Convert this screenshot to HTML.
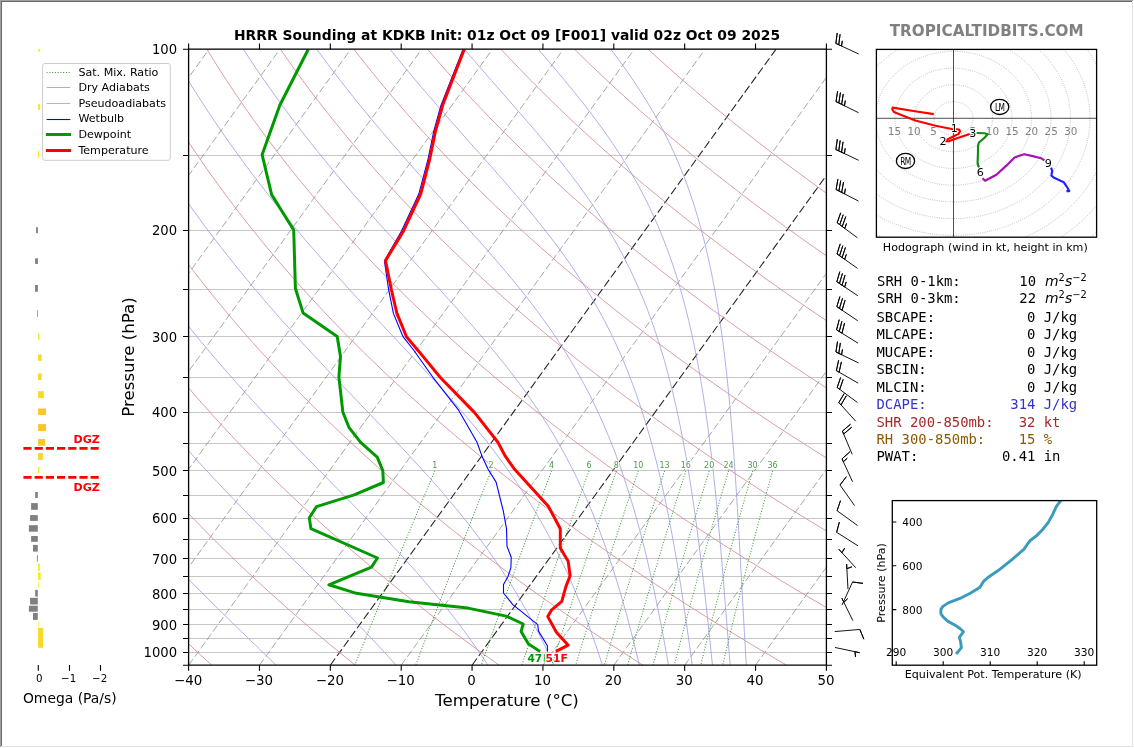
<!DOCTYPE html><html><head><meta charset="utf-8"><title>HRRR Sounding KDKB</title><style>html,body{margin:0;padding:0;background:#fff;overflow:hidden}svg{display:block}text{white-space:pre}</style></head><body>
<svg width="1134" height="748" viewBox="0 0 1134 748" font-family='"DejaVu Sans","Liberation Sans",sans-serif'>
<defs><clipPath id="cp"><rect x="188.6" y="49.2" width="637.8" height="616"/></clipPath>
<clipPath id="ch"><rect x="876.4" y="49.4" width="220.2" height="187.8"/></clipPath>
<clipPath id="ce"><rect x="892.3" y="500.6" width="204.4" height="164.6"/></clipPath></defs>
<rect width="1134" height="748" fill="#fff"/>
<g clip-path="url(#cp)" fill="none">
<path d="M188.6 49.5H826.4M188.6 155.5H826.4M188.6 230.5H826.4M188.6 289.5H826.4M188.6 336.5H826.4M188.6 377.5H826.4M188.6 412.5H826.4M188.6 443.5H826.4M188.6 470.5H826.4M188.6 495.5H826.4M188.6 518.5H826.4M188.6 539.5H826.4M188.6 558.5H826.4M188.6 576.5H826.4M188.6 593.5H826.4M188.6 609.5H826.4M188.6 624.5H826.4M188.6 638.5H826.4M188.6 652.5H826.4" stroke="#c6c6c6" stroke-width="1"/>
<path d="M-661.8 665.2L-216.12 49.2M-590.93 665.2L-145.26 49.2M-520.07 665.2L-74.39 49.2M-449.2 665.2L-3.52 49.2M-378.33 665.2L67.34 49.2M-307.47 665.2L138.21 49.2M-236.6 665.2L209.08 49.2M-165.73 665.2L279.94 49.2M-94.87 665.2L350.81 49.2M-24 665.2L421.68 49.2M46.87 665.2L492.54 49.2M117.73 665.2L563.41 49.2M188.6 665.2L634.28 49.2M259.47 665.2L705.14 49.2M401.2 665.2L846.88 49.2M542.93 665.2L988.61 49.2M613.8 665.2L1059.48 49.2M684.67 665.2L1130.34 49.2M755.53 665.2L1201.21 49.2M826.4 665.2L1272.08 49.2" stroke="#888" stroke-width="0.75" stroke-dasharray="7.4 3.0"/>
<path d="M330.33 665.2L776.01 49.2M472.07 665.2L917.74 49.2" stroke="#222" stroke-width="1.08" stroke-dasharray="8.2 3.2"/>
<path d="M-160.79 49.2 L-158.55 59.64 L-156.2 70.08 L-153.74 80.52 L-151.16 90.96 L-148.47 101.4 L-145.66 111.84 L-142.73 122.28 L-139.68 132.73 L-136.51 143.17 L-133.22 153.61 L-129.8 164.05 L-126.26 174.49 L-122.6 184.93 L-118.8 195.37 L-114.87 205.81 L-110.82 216.25 L-106.63 226.69 L-102.3 237.13 L-97.85 247.57 L-93.25 258.01 L-88.51 268.45 L-83.64 278.89 L-78.62 289.34 L-73.46 299.78 L-68.15 310.22 L-62.7 320.66 L-57.1 331.1 L-51.35 341.54 L-45.44 351.98 L-39.38 362.42 L-33.17 372.86 L-26.8 383.3 L-20.27 393.74 L-13.58 404.18 L-6.73 414.62 L0.29 425.06 L7.48 435.51 L14.83 445.95 L22.35 456.39 L30.05 466.83 L37.92 477.27 L45.96 487.71 L54.19 498.15 L62.59 508.59 L71.18 519.03 L79.95 529.47 L88.9 539.91 L98.05 550.35 L107.39 560.79 L116.92 571.23 L126.64 581.67 L136.56 592.12 L146.68 602.56 L157.01 613 L167.54 623.44 L178.27 633.88 L189.21 644.32 L200.37 654.76 L211.74 665.2M-87.26 49.2 L-84.18 59.64 L-80.98 70.08 L-77.66 80.52 L-74.21 90.96 L-70.64 101.4 L-66.94 111.84 L-63.11 122.28 L-59.16 132.73 L-55.07 143.17 L-50.84 153.61 L-46.49 164.05 L-42 174.49 L-37.36 184.93 L-32.6 195.37 L-27.68 205.81 L-22.63 216.25 L-17.44 226.69 L-12.09 237.13 L-6.6 247.57 L-0.96 258.01 L4.82 268.45 L10.77 278.89 L16.86 289.34 L23.11 299.78 L29.52 310.22 L36.09 320.66 L42.82 331.1 L49.72 341.54 L56.78 351.98 L64 362.42 L71.4 372.86 L78.96 383.3 L86.7 393.74 L94.61 404.18 L102.7 414.62 L110.97 425.06 L119.42 435.51 L128.05 445.95 L136.86 456.39 L145.87 466.83 L155.06 477.27 L164.44 487.71 L174.02 498.15 L183.79 508.59 L193.77 519.03 L203.94 529.47 L214.31 539.91 L224.89 550.35 L235.67 560.79 L246.67 571.23 L257.88 581.67 L269.3 592.12 L280.93 602.56 L292.79 613 L304.87 623.44 L317.17 633.88 L329.7 644.32 L342.46 654.76 L355.45 665.2M-13.73 49.2 L-9.81 59.64 L-5.76 70.08 L-1.58 80.52 L2.74 90.96 L7.19 101.4 L11.78 111.84 L16.5 122.28 L21.37 132.73 L26.38 143.17 L31.53 153.61 L36.83 164.05 L42.27 174.49 L47.87 184.93 L53.61 195.37 L59.5 205.81 L65.55 216.25 L71.76 226.69 L78.12 237.13 L84.64 247.57 L91.32 258.01 L98.16 268.45 L105.17 278.89 L112.35 289.34 L119.69 299.78 L127.2 310.22 L134.89 320.66 L142.75 331.1 L150.78 341.54 L158.99 351.98 L167.39 362.42 L175.96 372.86 L184.72 383.3 L193.67 393.74 L202.8 404.18 L212.13 414.62 L221.64 425.06 L231.36 435.51 L241.27 445.95 L251.38 456.39 L261.69 466.83 L272.2 477.27 L282.93 487.71 L293.86 498.15 L305 508.59 L316.35 519.03 L327.93 529.47 L339.72 539.91 L351.73 550.35 L363.96 560.79 L376.42 571.23 L389.11 581.67 L402.03 592.12 L415.18 602.56 L428.57 613 L442.2 623.44 L456.08 633.88 L470.19 644.32 L484.56 654.76 L499.17 665.2M59.8 49.2 L64.56 59.64 L69.46 70.08 L74.5 80.52 L79.69 90.96 L85.02 101.4 L90.49 111.84 L96.12 122.28 L101.9 132.73 L107.82 143.17 L113.91 153.61 L120.15 164.05 L126.54 174.49 L133.1 184.93 L139.81 195.37 L146.69 205.81 L153.74 216.25 L160.95 226.69 L168.33 237.13 L175.88 247.57 L183.6 258.01 L191.5 268.45 L199.58 278.89 L207.83 289.34 L216.26 299.78 L224.88 310.22 L233.68 320.66 L242.67 331.1 L251.84 341.54 L261.21 351.98 L270.77 362.42 L280.53 372.86 L290.48 383.3 L300.64 393.74 L310.99 404.18 L321.55 414.62 L332.32 425.06 L343.3 435.51 L354.49 445.95 L365.89 456.39 L377.51 466.83 L389.35 477.27 L401.41 487.71 L413.69 498.15 L426.2 508.59 L438.94 519.03 L451.91 529.47 L465.12 539.91 L478.56 550.35 L492.25 560.79 L506.17 571.23 L520.34 581.67 L534.76 592.12 L549.43 602.56 L564.36 613 L579.54 623.44 L594.98 633.88 L610.68 644.32 L626.65 654.76 L642.89 665.2M133.34 49.2 L138.93 59.64 L144.68 70.08 L150.58 80.52 L156.63 90.96 L162.84 101.4 L169.21 111.84 L175.74 122.28 L182.42 132.73 L189.27 143.17 L196.28 153.61 L203.46 164.05 L210.81 174.49 L218.33 184.93 L226.02 195.37 L233.88 205.81 L241.92 216.25 L250.14 226.69 L258.54 237.13 L267.12 247.57 L275.89 258.01 L284.84 268.45 L293.98 278.89 L303.31 289.34 L312.84 299.78 L322.56 310.22 L332.47 320.66 L342.59 331.1 L352.91 341.54 L363.43 351.98 L374.16 362.42 L385.09 372.86 L396.24 383.3 L407.6 393.74 L419.18 404.18 L430.98 414.62 L443 425.06 L455.24 435.51 L467.71 445.95 L480.4 456.39 L493.33 466.83 L506.49 477.27 L519.89 487.71 L533.53 498.15 L547.41 508.59 L561.53 519.03 L575.9 529.47 L590.53 539.91 L605.4 550.35 L620.53 560.79 L635.93 571.23 L651.58 581.67 L667.5 592.12 L683.68 602.56 L700.14 613 L716.87 623.44 L733.88 633.88 L751.17 644.32 L768.75 654.76 L786.61 665.2M206.87 49.2 L213.3 59.64 L219.9 70.08 L226.66 80.52 L233.58 90.96 L240.67 101.4 L247.93 111.84 L255.35 122.28 L262.95 132.73 L270.72 143.17 L278.66 153.61 L286.78 164.05 L295.08 174.49 L303.56 184.93 L312.22 195.37 L321.07 205.81 L330.11 216.25 L339.34 226.69 L348.75 237.13 L358.37 247.57 L368.17 258.01 L378.18 268.45 L388.39 278.89 L398.8 289.34 L409.41 299.78 L420.23 310.22 L431.27 320.66 L442.51 331.1 L453.97 341.54 L465.65 351.98 L477.54 362.42 L489.66 372.86 L502 383.3 L514.57 393.74 L527.37 404.18 L540.41 414.62 L553.67 425.06 L567.18 435.51 L580.93 445.95 L594.92 456.39 L609.15 466.83 L623.64 477.27 L638.37 487.71 L653.36 498.15 L668.61 508.59 L684.12 519.03 L699.89 529.47 L715.93 539.91 L732.24 550.35 L748.82 560.79 L765.68 571.23 L782.81 581.67 L800.23 592.12 L817.93 602.56 L835.92 613 L854.21 623.44 L872.79 633.88 L891.66 644.32 L910.84 654.76 L930.33 665.2M280.4 49.2 L287.68 59.64 L295.12 70.08 L302.74 80.52 L310.53 90.96 L318.5 101.4 L326.64 111.84 L334.97 122.28 L343.47 132.73 L352.16 143.17 L361.04 153.61 L370.1 164.05 L379.35 174.49 L388.79 184.93 L398.43 195.37 L408.26 205.81 L418.3 216.25 L428.53 226.69 L438.97 237.13 L449.61 247.57 L460.46 258.01 L471.52 268.45 L482.79 278.89 L494.28 289.34 L505.99 299.78 L517.91 310.22 L530.06 320.66 L542.43 331.1 L555.03 341.54 L567.86 351.98 L580.93 362.42 L594.23 372.86 L607.76 383.3 L621.54 393.74 L635.56 404.18 L649.83 414.62 L664.35 425.06 L679.12 435.51 L694.15 445.95 L709.43 456.39 L724.97 466.83 L740.78 477.27 L756.85 487.71 L773.2 498.15 L789.82 508.59 L806.71 519.03 L823.88 529.47 L841.34 539.91 L859.08 550.35 L877.11 560.79 L895.43 571.23 L914.05 581.67 L932.96 592.12 L952.18 602.56 L971.71 613 L991.54 623.44 L1011.69 633.88 L1032.15 644.32 L1052.94 654.76 L1074.04 665.2M353.93 49.2 L362.05 59.64 L370.34 70.08 L378.82 80.52 L387.48 90.96 L396.33 101.4 L405.36 111.84 L414.58 122.28 L424 132.73 L433.61 143.17 L443.41 153.61 L453.41 164.05 L463.62 174.49 L474.02 184.93 L484.63 195.37 L495.45 205.81 L506.48 216.25 L517.72 226.69 L529.18 237.13 L540.85 247.57 L552.74 258.01 L564.86 268.45 L577.2 278.89 L589.76 289.34 L602.56 299.78 L615.59 310.22 L628.85 320.66 L642.35 331.1 L656.1 341.54 L670.08 351.98 L684.31 362.42 L698.79 372.86 L713.52 383.3 L728.51 393.74 L743.75 404.18 L759.26 414.62 L775.03 425.06 L791.06 435.51 L807.36 445.95 L823.94 456.39 L840.79 466.83 L857.92 477.27 L875.34 487.71 L893.03 498.15 L911.02 508.59 L929.3 519.03 L947.87 529.47 L966.74 539.91 L985.92 550.35 L1005.39 560.79 L1025.18 571.23 L1045.28 581.67 L1065.7 592.12 L1086.43 602.56 L1107.49 613 L1128.88 623.44 L1150.59 633.88 L1172.64 644.32 L1195.03 654.76 L1217.76 665.2M427.46 49.2 L436.42 59.64 L445.56 70.08 L454.9 80.52 L464.43 90.96 L474.16 101.4 L484.08 111.84 L494.2 122.28 L504.52 132.73 L515.05 143.17 L525.79 153.61 L536.73 164.05 L547.89 174.49 L559.25 184.93 L570.84 195.37 L582.64 205.81 L594.67 216.25 L606.92 226.69 L619.39 237.13 L632.09 247.57 L645.03 258.01 L658.2 268.45 L671.6 278.89 L685.25 289.34 L699.13 299.78 L713.27 310.22 L727.64 320.66 L742.27 331.1 L757.16 341.54 L772.3 351.98 L787.7 362.42 L803.36 372.86 L819.28 383.3 L835.48 393.74 L851.95 404.18 L868.69 414.62 L885.7 425.06 L903 435.51 L920.58 445.95 L938.45 456.39 L956.61 466.83 L975.07 477.27 L993.82 487.71 L1012.87 498.15 L1032.22 508.59 L1051.89 519.03 L1071.86 529.47 L1092.15 539.91 L1112.75 550.35 L1133.68 560.79 L1154.93 571.23 L1176.52 581.67 L1198.43 592.12 L1220.68 602.56 L1243.27 613 L1266.21 623.44 L1289.5 633.88 L1313.13 644.32 L1337.13 654.76 L1361.48 665.2M500.99 49.2 L510.79 59.64 L520.78 70.08 L530.98 80.52 L541.38 90.96 L551.98 101.4 L562.8 111.84 L573.82 122.28 L585.05 132.73 L596.5 143.17 L608.16 153.61 L620.05 164.05 L632.15 174.49 L644.49 184.93 L657.04 195.37 L669.83 205.81 L682.85 216.25 L696.11 226.69 L709.6 237.13 L723.34 247.57 L737.31 258.01 L751.54 268.45 L766.01 278.89 L780.73 289.34 L795.71 299.78 L810.94 310.22 L826.44 320.66 L842.2 331.1 L858.22 341.54 L874.52 351.98 L891.08 362.42 L907.92 372.86 L925.05 383.3 L942.45 393.74 L960.14 404.18 L978.11 414.62 L996.38 425.06 L1014.94 435.51 L1033.8 445.95 L1052.97 456.39 L1072.43 466.83 L1092.21 477.27 L1112.3 487.71 L1132.7 498.15 L1153.43 508.59 L1174.48 519.03 L1195.85 529.47 L1217.55 539.91 L1239.59 550.35 L1261.97 560.79 L1284.69 571.23 L1307.75 581.67 L1331.17 592.12 L1354.93 602.56 L1379.06 613 L1403.55 623.44 L1428.4 633.88 L1453.62 644.32 L1479.22 654.76 L1505.2 665.2M574.52 49.2 L585.16 59.64 L596.01 70.08 L607.06 80.52 L618.33 90.96 L629.81 101.4 L641.51 111.84 L653.43 122.28 L665.58 132.73 L677.94 143.17 L690.54 153.61 L703.36 164.05 L716.42 174.49 L729.72 184.93 L743.25 195.37 L757.02 205.81 L771.04 216.25 L785.3 226.69 L799.81 237.13 L814.58 247.57 L829.6 258.01 L844.87 268.45 L860.41 278.89 L876.21 289.34 L892.28 299.78 L908.62 310.22 L925.23 320.66 L942.12 331.1 L959.28 341.54 L976.73 351.98 L994.47 362.42 L1012.49 372.86 L1030.81 383.3 L1049.42 393.74 L1068.33 404.18 L1087.54 414.62 L1107.06 425.06 L1126.88 435.51 L1147.02 445.95 L1167.48 456.39 L1188.26 466.83 L1209.36 477.27 L1230.78 487.71 L1252.54 498.15 L1274.63 508.59 L1297.06 519.03 L1319.84 529.47 L1342.96 539.91 L1366.43 550.35 L1390.26 560.79 L1414.44 571.23 L1438.99 581.67 L1463.9 592.12 L1489.18 602.56 L1514.84 613 L1540.88 623.44 L1567.3 633.88 L1594.11 644.32 L1621.31 654.76 L1648.91 665.2M648.05 49.2 L659.53 59.64 L671.23 70.08 L683.14 80.52 L695.28 90.96 L707.64 101.4 L720.23 111.84 L733.05 122.28 L746.1 132.73 L759.39 143.17 L772.92 153.61 L786.68 164.05 L800.69 174.49 L814.95 184.93 L829.45 195.37 L844.21 205.81 L859.22 216.25 L874.49 226.69 L890.03 237.13 L905.82 247.57 L921.88 258.01 L938.21 268.45 L954.82 278.89 L971.7 289.34 L988.86 299.78 L1006.3 310.22 L1024.02 320.66 L1042.04 331.1 L1060.35 341.54 L1078.95 351.98 L1097.85 362.42 L1117.06 372.86 L1136.57 383.3 L1156.39 393.74 L1176.52 404.18 L1196.96 414.62 L1217.73 425.06 L1238.82 435.51 L1260.24 445.95 L1281.99 456.39 L1304.08 466.83 L1326.5 477.27 L1349.26 487.71 L1372.38 498.15 L1395.84 508.59 L1419.65 519.03 L1443.83 529.47 L1468.36 539.91 L1493.27 550.35 L1518.54 560.79 L1544.19 571.23 L1570.22 581.67 L1596.63 592.12 L1623.43 602.56 L1650.62 613 L1678.21 623.44 L1706.21 633.88 L1734.6 644.32 L1763.41 654.76 L1792.63 665.2" stroke="#d48c92" stroke-width="0.85"/>
<path d="M-124.23 49.2 L-121.57 59.64 L-118.79 70.08 L-115.9 80.52 L-112.89 90.96 L-109.75 101.4 L-106.5 111.84 L-103.12 122.28 L-99.61 132.73 L-95.98 143.17 L-92.22 153.61 L-88.34 164.05 L-84.32 174.49 L-80.17 184.93 L-75.88 195.37 L-71.46 205.81 L-66.9 216.25 L-62.21 226.69 L-57.37 237.13 L-52.4 247.57 L-47.28 258.01 L-42.01 268.45 L-36.6 278.89 L-31.04 289.34 L-25.33 299.78 L-19.47 310.22 L-13.46 320.66 L-7.29 331.1 L-0.96 341.54 L5.52 351.98 L12.17 362.42 L18.97 372.86 L25.94 383.3 L33.08 393.74 L40.38 404.18 L47.85 414.62 L55.49 425.06 L63.31 435.51 L71.29 445.95 L79.46 456.39 L87.79 466.83 L96.31 477.27 L105 487.71 L113.86 498.15 L122.91 508.59 L132.12 519.03 L141.52 529.47 L151.08 539.91 L160.81 550.35 L170.7 560.79 L180.75 571.23 L190.95 581.67 L201.29 592.12 L211.75 602.56 L222.33 613 L233 623.44 L243.74 633.88 L254.55 644.32 L265.38 654.76 L276.22 665.2M-50.72 49.2 L-47.22 59.64 L-43.59 70.08 L-39.84 80.52 L-35.96 90.96 L-31.94 101.4 L-27.8 111.84 L-23.52 122.28 L-19.1 132.73 L-14.55 143.17 L-9.86 153.61 L-5.03 164.05 L-0.06 174.49 L5.05 184.93 L10.31 195.37 L15.71 205.81 L21.27 216.25 L26.97 226.69 L32.82 237.13 L38.83 247.57 L44.99 258.01 L51.31 268.45 L57.79 278.89 L64.43 289.34 L71.23 299.78 L78.19 310.22 L85.32 320.66 L92.61 331.1 L100.07 341.54 L107.71 351.98 L115.51 362.42 L123.49 372.86 L131.64 383.3 L139.96 393.74 L148.46 404.18 L157.13 414.62 L165.98 425.06 L175 435.51 L184.19 445.95 L193.55 456.39 L203.07 466.83 L212.75 477.27 L222.59 487.71 L232.56 498.15 L242.67 508.59 L252.9 519.03 L263.23 529.47 L273.65 539.91 L284.14 550.35 L294.66 560.79 L305.21 571.23 L315.74 581.67 L326.24 592.12 L336.66 602.56 L346.98 613 L357.18 623.44 L367.21 633.88 L377.06 644.32 L386.7 654.76 L396.11 665.2M22.8 49.2 L27.14 59.64 L31.61 70.08 L36.23 80.52 L40.98 90.96 L45.87 101.4 L50.9 111.84 L56.08 122.28 L61.41 132.73 L66.88 143.17 L72.5 153.61 L78.27 164.05 L84.19 174.49 L90.27 184.93 L96.5 195.37 L102.89 205.81 L109.44 216.25 L116.14 226.69 L123.02 237.13 L130.05 247.57 L137.25 258.01 L144.62 268.45 L152.16 278.89 L159.86 289.34 L167.74 299.78 L175.79 310.22 L184.01 320.66 L192.41 331.1 L200.98 341.54 L209.71 351.98 L218.62 362.42 L227.7 372.86 L236.94 383.3 L246.34 393.74 L255.89 404.18 L265.58 414.62 L275.41 425.06 L285.36 435.51 L295.42 445.95 L305.56 456.39 L315.78 466.83 L326.04 477.27 L336.32 487.71 L346.59 498.15 L356.82 508.59 L366.98 519.03 L377.04 529.47 L386.97 539.91 L396.73 550.35 L406.3 560.79 L415.66 571.23 L424.78 581.67 L433.63 592.12 L442.23 602.56 L450.54 613 L458.56 623.44 L466.31 633.88 L473.76 644.32 L480.94 654.76 L487.85 665.2M96.31 49.2 L101.49 59.64 L106.82 70.08 L112.29 80.52 L117.91 90.96 L123.68 101.4 L129.6 111.84 L135.68 122.28 L141.91 132.73 L148.3 143.17 L154.85 153.61 L161.56 164.05 L168.43 174.49 L175.47 184.93 L182.67 195.37 L190.04 205.81 L197.58 216.25 L205.28 226.69 L213.16 237.13 L221.2 247.57 L229.42 258.01 L237.81 268.45 L246.36 278.89 L255.09 289.34 L263.98 299.78 L273.03 310.22 L282.24 320.66 L291.6 331.1 L301.1 341.54 L310.73 351.98 L320.48 362.42 L330.33 372.86 L340.26 383.3 L350.26 393.74 L360.29 404.18 L370.33 414.62 L380.36 425.06 L390.33 435.51 L400.22 445.95 L410 456.39 L419.62 466.83 L429.06 477.27 L438.3 487.71 L447.3 498.15 L456.04 508.59 L464.52 519.03 L472.71 529.47 L480.61 539.91 L488.21 550.35 L495.52 560.79 L502.53 571.23 L509.26 581.67 L515.71 592.12 L521.89 602.56 L527.81 613 L533.49 623.44 L538.93 633.88 L544.15 644.32 L549.17 654.76 L553.99 665.2M169.83 49.2 L175.85 59.64 L182.02 70.08 L188.35 80.52 L194.84 90.96 L201.49 101.4 L208.3 111.84 L215.27 122.28 L222.41 132.73 L229.71 143.17 L237.18 153.61 L244.82 164.05 L252.63 174.49 L260.6 184.93 L268.75 195.37 L277.06 205.81 L285.54 216.25 L294.19 226.69 L303 237.13 L311.96 247.57 L321.08 258.01 L330.34 268.45 L339.73 278.89 L349.24 289.34 L358.86 299.78 L368.57 310.22 L378.34 320.66 L388.16 331.1 L397.99 341.54 L407.81 351.98 L417.58 362.42 L427.27 372.86 L436.84 383.3 L446.27 393.74 L455.51 404.18 L464.54 414.62 L473.34 425.06 L481.87 435.51 L490.13 445.95 L498.09 456.39 L505.75 466.83 L513.1 477.27 L520.15 487.71 L526.9 498.15 L533.36 508.59 L539.52 519.03 L545.41 529.47 L551.04 539.91 L556.41 550.35 L561.54 560.79 L566.44 571.23 L571.13 581.67 L575.63 592.12 L579.93 602.56 L584.06 613 L588.02 623.44 L591.83 633.88 L595.5 644.32 L599.03 654.76 L602.45 665.2M243.33 49.2 L250.19 59.64 L257.21 70.08 L264.39 80.52 L271.74 90.96 L279.25 101.4 L286.94 111.84 L294.79 122.28 L302.81 132.73 L310.99 143.17 L319.34 153.61 L327.85 164.05 L336.53 174.49 L345.36 184.93 L354.33 195.37 L363.45 205.81 L372.69 216.25 L382.05 226.69 L391.51 237.13 L401.05 247.57 L410.65 258.01 L420.29 268.45 L429.92 278.89 L439.53 289.34 L449.08 299.78 L458.53 310.22 L467.85 320.66 L477 331.1 L485.95 341.54 L494.67 351.98 L503.14 362.42 L511.32 372.86 L519.22 383.3 L526.81 393.74 L534.08 404.18 L541.05 414.62 L547.7 425.06 L554.04 435.51 L560.08 445.95 L565.84 456.39 L571.31 466.83 L576.53 477.27 L581.49 487.71 L586.21 498.15 L590.71 508.59 L594.99 519.03 L599.08 529.47 L602.99 539.91 L606.72 550.35 L610.29 560.79 L613.71 571.23 L617 581.67 L620.15 592.12 L623.19 602.56 L626.11 613 L628.93 623.44 L631.66 633.88 L634.3 644.32 L636.86 654.76 L639.35 665.2M316.79 49.2 L324.47 59.64 L332.31 70.08 L340.32 80.52 L348.49 90.96 L356.83 101.4 L365.32 111.84 L373.97 122.28 L382.77 132.73 L391.7 143.17 L400.77 153.61 L409.95 164.05 L419.23 174.49 L428.6 184.93 L438.02 195.37 L447.48 205.81 L456.94 216.25 L466.37 226.69 L475.73 237.13 L485 247.57 L494.14 258.01 L503.1 268.45 L511.85 278.89 L520.37 289.34 L528.63 299.78 L536.59 310.22 L544.26 320.66 L551.61 331.1 L558.64 341.54 L565.35 351.98 L571.74 362.42 L577.82 372.86 L583.59 383.3 L589.07 393.74 L594.26 404.18 L599.19 414.62 L603.86 425.06 L608.29 435.51 L612.49 445.95 L616.48 456.39 L620.28 466.83 L623.88 477.27 L627.32 487.71 L630.59 498.15 L633.71 508.59 L636.69 519.03 L639.55 529.47 L642.28 539.91 L644.9 550.35 L647.42 560.79 L649.85 571.23 L652.19 581.67 L654.44 592.12 L656.63 602.56 L658.74 613 L660.8 623.44 L662.8 633.88 L664.74 644.32 L666.64 654.76 L668.5 665.2M390.05 49.2 L398.48 59.64 L407.06 70.08 L415.79 80.52 L424.65 90.96 L433.63 101.4 L442.71 111.84 L451.89 122.28 L461.13 132.73 L470.42 143.17 L479.71 153.61 L489 164.05 L498.23 174.49 L507.37 184.93 L516.38 195.37 L525.23 205.81 L533.88 216.25 L542.3 226.69 L550.46 237.13 L558.32 247.57 L565.89 258.01 L573.13 268.45 L580.05 278.89 L586.64 289.34 L592.9 299.78 L598.84 310.22 L604.47 320.66 L609.79 331.1 L614.82 341.54 L619.58 351.98 L624.07 362.42 L628.31 372.86 L632.32 383.3 L636.12 393.74 L639.7 404.18 L643.1 414.62 L646.32 425.06 L649.37 435.51 L652.27 445.95 L655.02 456.39 L657.65 466.83 L660.15 477.27 L662.53 487.71 L664.81 498.15 L666.99 508.59 L669.09 519.03 L671.1 529.47 L673.03 539.91 L674.9 550.35 L676.7 560.79 L678.44 571.23 L680.13 581.67 L681.77 592.12 L683.36 602.56 L684.92 613 L686.44 623.44 L687.93 633.88 L689.39 644.32 L690.82 654.76 L692.23 665.2M464.33 49.2 L473.31 59.64 L482.36 70.08 L491.48 80.52 L500.62 90.96 L509.76 101.4 L518.87 111.84 L527.9 122.28 L536.83 132.73 L545.61 143.17 L554.2 153.61 L562.57 164.05 L570.68 174.49 L578.52 184.93 L586.05 195.37 L593.26 205.81 L600.14 216.25 L606.69 226.69 L612.89 237.13 L618.77 247.57 L624.32 258.01 L629.56 268.45 L634.5 278.89 L639.15 289.34 L643.53 299.78 L647.65 310.22 L651.53 320.66 L655.18 331.1 L658.61 341.54 L661.85 351.98 L664.91 362.42 L667.79 372.86 L670.51 383.3 L673.08 393.74 L675.51 404.18 L677.82 414.62 L680 425.06 L682.08 435.51 L684.06 445.95 L685.94 456.39 L687.74 466.83 L689.45 477.27 L691.1 487.71 L692.67 498.15 L694.19 508.59 L695.65 519.03 L697.05 529.47 L698.41 539.91 L699.73 550.35 L701.01 560.79 L702.26 571.23 L703.47 581.67 L704.66 592.12 L705.83 602.56 L706.97 613 L708.1 623.44 L709.21 633.88 L710.31 644.32 L711.39 654.76 L712.48 665.2M538.31 49.2 L547.25 59.64 L556.1 70.08 L564.83 80.52 L573.39 90.96 L581.74 101.4 L589.86 111.84 L597.7 122.28 L605.25 132.73 L612.48 143.17 L619.38 153.61 L625.94 164.05 L632.16 174.49 L638.04 184.93 L643.58 195.37 L648.79 205.81 L653.69 216.25 L658.29 226.69 L662.61 237.13 L666.66 247.57 L670.45 258.01 L674 268.45 L677.34 278.89 L680.46 289.34 L683.39 299.78 L686.14 310.22 L688.72 320.66 L691.14 331.1 L693.42 341.54 L695.56 351.98 L697.58 362.42 L699.49 372.86 L701.29 383.3 L702.99 393.74 L704.6 404.18 L706.12 414.62 L707.57 425.06 L708.95 435.51 L710.26 445.95 L711.52 456.39 L712.72 466.83 L713.87 477.27 L714.97 487.71 L716.03 498.15 L717.06 508.59 L718.05 519.03 L719.01 529.47 L719.95 539.91 L720.86 550.35 L721.75 560.79 L722.63 571.23 L723.49 581.67 L724.33 592.12 L725.17 602.56 L726 613 L726.83 623.44 L727.65 633.88 L728.47 644.32 L729.29 654.76 L730.12 665.2M610.78 49.2 L618.61 59.64 L626.15 70.08 L633.37 80.52 L640.26 90.96 L646.81 101.4 L653.01 111.84 L658.86 122.28 L664.37 132.73 L669.53 143.17 L674.38 153.61 L678.91 164.05 L683.15 174.49 L687.11 184.93 L690.8 195.37 L694.25 205.81 L697.46 216.25 L700.45 226.69 L703.25 237.13 L705.85 247.57 L708.28 258.01 L710.55 268.45 L712.67 278.89 L714.65 289.34 L716.49 299.78 L718.22 310.22 L719.84 320.66 L721.36 331.1 L722.78 341.54 L724.11 351.98 L725.37 362.42 L726.55 372.86 L727.66 383.3 L728.71 393.74 L729.7 404.18 L730.64 414.62 L731.53 425.06 L732.38 435.51 L733.19 445.95 L733.96 456.39 L734.7 466.83 L735.41 477.27 L736.1 487.71 L736.76 498.15 L737.41 508.59 L738.03 519.03 L738.65 529.47 L739.25 539.91 L739.84 550.35 L740.42 560.79 L741 571.23 L741.58 581.67 L742.16 592.12 L742.73 602.56 L743.31 613 L743.89 623.44 L744.48 633.88 L745.08 644.32 L745.68 654.76 L746.3 665.2" stroke="#9c9ce4" stroke-width="0.8"/>
<path d="M434.86 470.83 L427.39 488.5 L419.96 506.17 L412.57 523.84 L405.22 541.51 L397.9 559.18 L390.62 576.85 L383.38 594.52 L376.18 612.19 L369.01 629.86 L361.89 647.53 L354.81 665.2M491.17 470.83 L484.1 488.5 L477.07 506.17 L470.08 523.84 L463.13 541.51 L456.22 559.18 L449.36 576.85 L442.54 594.52 L435.76 612.19 L429.03 629.86 L422.34 647.53 L415.7 665.2M551.59 470.83 L544.95 488.5 L538.37 506.17 L531.82 523.84 L525.33 541.51 L518.88 559.18 L512.48 576.85 L506.13 594.52 L499.83 612.19 L493.58 629.86 L487.37 647.53 L481.22 665.2M588.96 470.83 L582.6 488.5 L576.3 506.17 L570.05 523.84 L563.84 541.51 L557.69 559.18 L551.58 576.85 L545.53 594.52 L539.53 612.19 L533.59 629.86 L527.69 647.53 L521.85 665.2M616.42 470.83 L610.28 488.5 L604.18 506.17 L598.14 523.84 L592.15 541.51 L586.22 559.18 L580.34 576.85 L574.51 594.52 L568.74 612.19 L563.02 629.86 L557.36 647.53 L551.76 665.2M638.27 470.83 L632.29 488.5 L626.37 506.17 L620.5 523.84 L614.69 541.51 L608.93 559.18 L603.23 576.85 L597.59 594.52 L592 612.19 L586.47 629.86 L580.99 647.53 L575.58 665.2M664.57 470.83 L658.8 488.5 L653.09 506.17 L647.43 523.84 L641.83 541.51 L636.29 559.18 L630.81 576.85 L625.38 594.52 L620.02 612.19 L614.72 629.86 L609.47 647.53 L604.29 665.2M685.84 470.83 L680.25 488.5 L674.71 506.17 L669.22 523.84 L663.8 541.51 L658.44 559.18 L653.13 576.85 L647.89 594.52 L642.71 612.19 L637.59 629.86 L632.54 647.53 L627.55 665.2M709.16 470.83 L703.75 488.5 L698.4 506.17 L693.11 523.84 L687.88 541.51 L682.71 559.18 L677.61 576.85 L672.57 594.52 L667.59 612.19 L662.68 629.86 L657.84 647.53 L653.06 665.2M728.54 470.83 L723.28 488.5 L718.09 506.17 L712.97 523.84 L707.9 541.51 L702.9 559.18 L697.96 576.85 L693.1 594.52 L688.29 612.19 L683.56 629.86 L678.89 647.53 L674.29 665.2M752.64 470.83 L747.58 488.5 L742.59 506.17 L737.67 523.84 L732.81 541.51 L728.02 559.18 L723.29 576.85 L718.64 594.52 L714.05 612.19 L709.54 629.86 L705.09 647.53 L700.72 665.2M772.61 470.83 L767.72 488.5 L762.9 506.17 L758.15 523.84 L753.47 541.51 L748.85 559.18 L744.3 576.85 L739.83 594.52 L735.42 612.19 L731.09 629.86 L726.84 647.53 L722.65 665.2" stroke="#3f9b3f" stroke-width="1.04" stroke-dasharray="1.04 1.72"/>
<text x="434.86" y="468.3" font-size="8" fill="#4c9c4c" text-anchor="middle" stroke="#fff" stroke-width="1.8" stroke-linejoin="round" paint-order="stroke">1</text>
<text x="491.17" y="468.3" font-size="8" fill="#4c9c4c" text-anchor="middle" stroke="#fff" stroke-width="1.8" stroke-linejoin="round" paint-order="stroke">2</text>
<text x="551.59" y="468.3" font-size="8" fill="#4c9c4c" text-anchor="middle" stroke="#fff" stroke-width="1.8" stroke-linejoin="round" paint-order="stroke">4</text>
<text x="588.96" y="468.3" font-size="8" fill="#4c9c4c" text-anchor="middle" stroke="#fff" stroke-width="1.8" stroke-linejoin="round" paint-order="stroke">6</text>
<text x="616.42" y="468.3" font-size="8" fill="#4c9c4c" text-anchor="middle" stroke="#fff" stroke-width="1.8" stroke-linejoin="round" paint-order="stroke">8</text>
<text x="638.27" y="468.3" font-size="8" fill="#4c9c4c" text-anchor="middle" stroke="#fff" stroke-width="1.8" stroke-linejoin="round" paint-order="stroke">10</text>
<text x="664.57" y="468.3" font-size="8" fill="#4c9c4c" text-anchor="middle" stroke="#fff" stroke-width="1.8" stroke-linejoin="round" paint-order="stroke">13</text>
<text x="685.84" y="468.3" font-size="8" fill="#4c9c4c" text-anchor="middle" stroke="#fff" stroke-width="1.8" stroke-linejoin="round" paint-order="stroke">16</text>
<text x="709.16" y="468.3" font-size="8" fill="#4c9c4c" text-anchor="middle" stroke="#fff" stroke-width="1.8" stroke-linejoin="round" paint-order="stroke">20</text>
<text x="728.54" y="468.3" font-size="8" fill="#4c9c4c" text-anchor="middle" stroke="#fff" stroke-width="1.8" stroke-linejoin="round" paint-order="stroke">24</text>
<text x="752.64" y="468.3" font-size="8" fill="#4c9c4c" text-anchor="middle" stroke="#fff" stroke-width="1.8" stroke-linejoin="round" paint-order="stroke">30</text>
<text x="772.61" y="468.3" font-size="8" fill="#4c9c4c" text-anchor="middle" stroke="#fff" stroke-width="1.8" stroke-linejoin="round" paint-order="stroke">36</text>
<path d="M463.1 49.2 L441.1 105 L433.7 131.5 L428.1 158.8 L418.8 194.1 L401.5 231.1 L384.4 260.9 L388.6 289.3 L393.4 313.4 L403 336.7 L413.6 350 L432.9 377.3 L458.6 410.2 L470 430 L477 442.3 L481.9 455.9 L488.1 469.3 L496.1 482.1 L503.3 511 L506.5 528.7 L507 546.3 L511.2 557.2 L510.9 567.7 L508 576.5 L503.5 584.5 L503.5 593 L512.8 604.6 L537.7 624.6 L538.5 631.1 L547.4 645.8 L547.4 651.4" stroke="#0000ff" stroke-width="1.1" stroke-linejoin="round"/>
<path d="M308.3 49.2 L279.8 105.3 L262.1 154.7 L271.6 194.6 L293.7 230 L295.4 288.5 L303.1 312.9 L337.2 336.4 L340.5 356.4 L338.9 377.2 L342.9 412.3 L348.9 427.3 L360.6 442.4 L377.2 457.2 L382.8 470.5 L383.4 482.5 L354.2 494.9 L316.5 506.6 L309.3 517.8 L310.9 528.6 L377.5 558 L371.5 567.1 L328.9 584.8 L354.9 592.9 L408.9 601.7 L468.1 608.1 L506.2 616.1 L523.2 624 L521.1 631.4 L528.5 644.1 L540.1 651.5" stroke="#009900" stroke-width="3" stroke-linejoin="round"/>
<path d="M464.3 49.2 L442.7 105 L435.4 131.5 L429.8 158.8 L420.7 194.1 L403.4 231.1 L385.5 260.6 L391.3 289.3 L396.9 313.4 L406.5 336.7 L422.6 355.9 L440.1 377.3 L474.6 412.6 L497.9 442.3 L505.1 455.9 L514.6 469.3 L548.3 506.2 L560.3 528.7 L560.3 547.9 L565.9 557.5 L568.2 561.2 L570.1 575.7 L565.8 586.9 L561.8 601.4 L551.4 610.2 L547.8 616.6 L556.2 631.9 L568.2 645.2 L555.9 651.4" stroke="#ff0000" stroke-width="3" stroke-linejoin="round"/>
</g>
<g font-size="10.7" font-weight="bold" stroke="#fff" stroke-width="2" paint-order="stroke" stroke-linejoin="round">
<text x="542.3" y="661.7" fill="#009900" text-anchor="end">47</text>
<text x="545.6" y="661.7" fill="#ff0000">51F</text></g>
<path d="M544.3 653.9V661.7" stroke="#1a9a1a" stroke-width="0.9"/>
<path d="M188.6 49.2H826.4V665.2H188.6Z" fill="none" stroke="#000" stroke-width="1.3"/>
<path d="M188.6 665.2v5.6M188.6 49.2v-5.6M259.47 665.2v5.6M259.47 49.2v-5.6M330.33 665.2v5.6M330.33 49.2v-5.6M401.2 665.2v5.6M401.2 49.2v-5.6M472.07 665.2v5.6M472.07 49.2v-5.6M542.93 665.2v5.6M542.93 49.2v-5.6M613.8 665.2v5.6M613.8 49.2v-5.6M684.67 665.2v5.6M684.67 49.2v-5.6M755.53 665.2v5.6M755.53 49.2v-5.6M826.4 665.2v5.6M826.4 49.2v-5.6M188.6 49.2h-5.6M188.6 155.5h-5.6M188.6 230.5h-5.6M188.6 289.5h-5.6M188.6 336.5h-5.6M188.6 377.5h-5.6M188.6 412.5h-5.6M188.6 443.5h-5.6M188.6 470.5h-5.6M188.6 495.5h-5.6M188.6 518.5h-5.6M188.6 539.5h-5.6M188.6 558.5h-5.6M188.6 576.5h-5.6M188.6 593.5h-5.6M188.6 609.5h-5.6M188.6 624.5h-5.6M188.6 638.5h-5.6M188.6 652.5h-5.6M188.6 665.2h-5.6M826.4 49.2h5.6M826.4 155.5h5.6M826.4 230.5h5.6M826.4 289.5h5.6M826.4 336.5h5.6M826.4 377.5h5.6M826.4 412.5h5.6M826.4 443.5h5.6M826.4 470.5h5.6M826.4 495.5h5.6M826.4 518.5h5.6M826.4 539.5h5.6M826.4 558.5h5.6M826.4 576.5h5.6M826.4 593.5h5.6M826.4 609.5h5.6M826.4 624.5h5.6M826.4 638.5h5.6M826.4 652.5h5.6M826.4 665.2h5.6" fill="none" stroke="#000" stroke-width="1.1"/>
<text x="188.1" y="684.8" font-size="13.4" text-anchor="middle">−40</text>
<text x="258.97" y="684.8" font-size="13.4" text-anchor="middle">−30</text>
<text x="329.83" y="684.8" font-size="13.4" text-anchor="middle">−20</text>
<text x="400.7" y="684.8" font-size="13.4" text-anchor="middle">−10</text>
<text x="471.57" y="684.8" font-size="13.4" text-anchor="middle">0</text>
<text x="542.43" y="684.8" font-size="13.4" text-anchor="middle">10</text>
<text x="613.3" y="684.8" font-size="13.4" text-anchor="middle">20</text>
<text x="684.17" y="684.8" font-size="13.4" text-anchor="middle">30</text>
<text x="755.03" y="684.8" font-size="13.4" text-anchor="middle">40</text>
<text x="825.9" y="684.8" font-size="13.4" text-anchor="middle">50</text>
<text x="177.1" y="53.9" font-size="13.2" text-anchor="end">100</text>
<text x="177.1" y="235.49" font-size="13.2" text-anchor="end">200</text>
<text x="177.1" y="341.71" font-size="13.2" text-anchor="end">300</text>
<text x="177.1" y="417.07" font-size="13.2" text-anchor="end">400</text>
<text x="177.1" y="475.53" font-size="13.2" text-anchor="end">500</text>
<text x="177.1" y="523.3" font-size="13.2" text-anchor="end">600</text>
<text x="177.1" y="563.68" font-size="13.2" text-anchor="end">700</text>
<text x="177.1" y="598.66" font-size="13.2" text-anchor="end">800</text>
<text x="177.1" y="629.52" font-size="13.2" text-anchor="end">900</text>
<text x="177.1" y="657.12" font-size="13.2" text-anchor="end">1000</text>
<text x="507" y="706" font-size="16.67" text-anchor="middle">Temperature (°C)</text>
<text transform="translate(133.6 357) rotate(-90)" font-size="16.67" text-anchor="middle">Pressure (hPa)</text>
<text x="507" y="40.3" font-size="13.89" font-weight="bold" text-anchor="middle">HRRR Sounding at KDKB Init: 01z Oct 09 [F001] valid 02z Oct 09 2025</text><rect x="42.6" y="63.5" width="127.7" height="96.8" rx="2.2" fill="#fff" fill-opacity="0.8" stroke="#ccc" stroke-width="1"/>
<path d="M46.6 72.4H70.3" fill="none" stroke="#3f9b3f" stroke-width="1.04" stroke-dasharray="1.04 1.72"/>
<text x="78.4" y="76" font-size="11.1">Sat. Mix. Ratio</text>
<path d="M46.6 87.5H70.3" fill="none" stroke="#d48c92" stroke-width="0.85"/>
<text x="78.4" y="91.4" font-size="11.1">Dry Adiabats</text>
<path d="M46.6 103.5H70.3" fill="none" stroke="#9c9ce4" stroke-width="0.8"/>
<text x="78.4" y="107.2" font-size="11.1">Pseudoadiabats</text>
<path d="M46.6 119.5H70.3" fill="none" stroke="#0000ff" stroke-width="1.1"/>
<text x="78.4" y="122.1" font-size="11.1">Wetbulb</text>
<path d="M45.9 134.5H71" fill="none" stroke="#009900" stroke-width="3"/>
<text x="78.4" y="138.2" font-size="11.1">Dewpoint</text>
<path d="M45.9 150.5H71" fill="none" stroke="#ff0000" stroke-width="3"/>
<text x="78.4" y="154.2" font-size="11.1">Temperature</text>
<rect x="38.1" y="49.2" width="1.8" height="2.5" fill="#f6ec12"/>
<rect x="38.1" y="104.2" width="2" height="5.7" fill="#f6ec12"/>
<rect x="37.9" y="151" width="1.2" height="6.8" fill="#f6ec12"/>
<rect x="36.1" y="227.2" width="1.8" height="6" fill="#808080"/>
<rect x="35.1" y="258.3" width="2.8" height="5.6" fill="#808080"/>
<rect x="35.1" y="285" width="2.8" height="6.8" fill="#808080"/>
<rect x="37.1" y="310" width="0.7" height="7" fill="#808080"/>
<rect x="38.1" y="333.2" width="1.4" height="6.8" fill="#f6ec12"/>
<rect x="38.1" y="354.4" width="3.6" height="6.5" fill="#f9da22"/>
<rect x="38.1" y="373.4" width="3.6" height="6.7" fill="#f9da22"/>
<rect x="38.1" y="391.2" width="5.7" height="6.9" fill="#f9da22"/>
<rect x="38.1" y="408.5" width="7.9" height="6.5" fill="#fbc626"/>
<rect x="38.1" y="424.1" width="7.9" height="6.9" fill="#fbc626"/>
<rect x="38.1" y="439" width="6.9" height="6.7" fill="#fbc626"/>
<rect x="38.1" y="453" width="4.8" height="7" fill="#f9da22"/>
<rect x="38.1" y="466.6" width="1.4" height="6.3" fill="#f6ec12"/>
<rect x="35.2" y="492" width="2.6" height="6" fill="#808080"/>
<rect x="31.1" y="503.1" width="6.7" height="6.7" fill="#808080"/>
<rect x="30.1" y="515.1" width="7.7" height="5.8" fill="#808080"/>
<rect x="28.9" y="525.2" width="8.9" height="6.5" fill="#808080"/>
<rect x="31.1" y="536" width="6.7" height="5.8" fill="#808080"/>
<rect x="33" y="544.9" width="4.8" height="6.7" fill="#808080"/>
<rect x="36.9" y="555.2" width="0.9" height="6.5" fill="#808080"/>
<rect x="38.1" y="563.7" width="1.7" height="7.2" fill="#f6ec12"/>
<rect x="38.1" y="572.5" width="2.6" height="7.3" fill="#f6ec12"/>
<rect x="38.1" y="582.2" width="0.7" height="5.5" fill="#f6ec12"/>
<rect x="35.2" y="589.9" width="2.6" height="6.7" fill="#808080"/>
<rect x="30.1" y="597.8" width="7.7" height="6.7" fill="#808080"/>
<rect x="28.9" y="605.7" width="8.9" height="6" fill="#808080"/>
<rect x="33" y="612.9" width="4.8" height="7" fill="#808080"/>
<rect x="38.1" y="621.3" width="0.7" height="5.3" fill="#f6ec12"/>
<rect x="38.1" y="627.8" width="5" height="20" fill="#f9da22"/>
<path d="M23.4 448.4H98.7M23.4 477.4H98.7" stroke="#ff0000" stroke-width="2.8" stroke-dasharray="8.2 3" fill="none"/>
<text x="99.8" y="443.2" font-size="11.1" font-weight="bold" fill="#ff0000" text-anchor="end">DGZ</text>
<text x="99.8" y="490.5" font-size="11.1" font-weight="bold" fill="#ff0000" text-anchor="end">DGZ</text>
<path d="M38.3 665.1v5.6M69.5 665.1v5.6M100.5 665.1v5.6" stroke="#000" stroke-width="1.1"/>
<text x="39.2" y="681.9" font-size="10.3" text-anchor="middle">0</text>
<text x="68.6" y="681.9" font-size="10.3" text-anchor="middle">−1</text>
<text x="99.7" y="681.9" font-size="10.3" text-anchor="middle">−2</text>
<text x="69.8" y="703.3" font-size="13.89" text-anchor="middle">Omega (Pa/s)</text>
<path d="M858.73 53.99 L835.87 43.41 L837.24 32.94 L835.87 43.41 L838.72 44.73 L840.1 34.26 L838.72 44.73 L841.58 46.05 L842.27 40.82 L841.58 46.05M858.6 112.73 L836 101.58 L837.63 91.15 L836 101.58 L838.83 102.98 L840.46 92.54 L838.83 102.98 L841.65 104.37 L843.28 93.94 L841.65 104.37 L844.48 105.76 L845.29 100.55 L844.48 105.76M858.7 160.3 L835.9 149.55 L837.35 139.09 L835.9 149.55 L838.75 150.89 L840.2 140.43 L838.75 150.89 L841.6 152.23 L843.05 141.77 L841.6 152.23 L844.45 153.58 L845.18 148.35 L844.45 153.58M858.5 201.08 L836.1 189.53 L837.92 179.13 L836.1 189.53 L838.9 190.97 L840.72 180.57 L838.9 190.97 L841.7 192.42 L843.52 182.02 L841.7 192.42 L844.5 193.86 L845.41 188.66 L844.5 193.86M857.4 237.81 L837.2 222.76 L840.69 212.79 L837.2 222.76 L839.72 224.64 L843.22 214.68 L839.72 224.64 L842.25 226.52 L845.74 216.56 L842.25 226.52 L844.77 228.4 L846.52 223.42 L844.77 228.4M857.59 268.42 L837.01 253.87 L840.26 243.82 L837.01 253.87 L839.58 255.69 L842.83 245.64 L839.58 255.69 L842.16 257.5 L845.41 247.46 L842.16 257.5 L844.73 259.32 L846.35 254.3 L844.73 259.32M857.77 295.76 L836.83 281.73 L839.82 271.6 L836.83 281.73 L839.45 283.49 L842.44 273.36 L839.45 283.49 L842.07 285.24 L845.06 275.11 L842.07 285.24 L844.68 286.99 L846.18 281.93 L844.68 286.99M857.75 320.76 L836.85 306.67 L839.88 296.55 L836.85 306.67 L839.47 308.43 L842.49 298.31 L839.47 308.43 L842.08 310.19 L845.1 300.07 L842.08 310.19M858.01 343.15 L836.59 329.87 L839.22 319.64 L836.59 329.87 L839.27 331.53 L841.9 321.3 L839.27 331.53 L841.94 333.19 L844.58 322.96 L841.94 333.19M858.64 362.97 L835.96 351.98 L837.52 341.54 L835.96 351.98 L838.8 353.36 L840.36 342.91 L838.8 353.36 L841.63 354.73 L842.41 349.51 L841.63 354.73M858.23 383.15 L836.37 370.63 L838.64 360.32 L836.37 370.63 L839.1 372.2 L841.38 361.88 L839.1 372.2M857.42 402.47 L837.18 387.46 L840.65 377.49 L837.18 387.46 L839.71 389.34 L843.18 379.36 L839.71 389.34M855.74 421.23 L838.86 402.52 L844.23 393.43 L838.86 402.52 L840.97 404.86 L846.34 395.77 L840.97 404.86M852.19 454.34 L842.41 431.12 L850.48 424.3 L842.41 431.12 L843.63 434.02 L851.7 427.21 L843.63 434.02M852.56 481.78 L842.04 458.88 L849.89 451.81 L842.04 458.88 L843.36 461.74 L847.28 458.21 L843.36 461.74M854.59 505.58 L840.01 485.02 L846.41 476.62 L840.01 485.02M857.5 525.49 L837.1 510.7 L840.47 500.69 L837.1 510.7M857.96 545.79 L836.64 532.34 L839.35 522.14 L836.64 532.34M855.81 567.77 L838.79 549.19 L841.98 552.67 L844.63 548.11 L841.98 552.67M847.97 589.14 L846.63 563.97 L846.88 568.69 L851.83 566.85 L846.88 568.69M842.04 604.91 L852.56 582.01 L863.03 583.36 L852.56 582.01M852.83 620.66 L841.77 598.02 L843.84 602.27 L847.68 598.64 L843.84 602.27M834.74 631.56 L859.86 629.45 L863.84 639.23 L859.86 629.45M834.97 647.47 L859.63 652.68 L855 651.71 L855.5 656.96 L855 651.71" fill="none" stroke="#000" stroke-width="0.92" stroke-linejoin="miter"/>
<g clip-path="url(#ch)" fill="none">
<ellipse cx="953.5" cy="118.3" rx="19.5" ry="16.72" stroke="#9c9c9c" stroke-width="0.75" stroke-dasharray="0.8 1.4"/>
<ellipse cx="953.5" cy="118.3" rx="39" ry="33.44" stroke="#9c9c9c" stroke-width="0.75" stroke-dasharray="0.8 1.4"/>
<ellipse cx="953.5" cy="118.3" rx="58.5" ry="50.16" stroke="#9c9c9c" stroke-width="0.75" stroke-dasharray="0.8 1.4"/>
<ellipse cx="953.5" cy="118.3" rx="78" ry="66.88" stroke="#9c9c9c" stroke-width="0.75" stroke-dasharray="0.8 1.4"/>
<ellipse cx="953.5" cy="118.3" rx="97.5" ry="83.6" stroke="#9c9c9c" stroke-width="0.75" stroke-dasharray="0.8 1.4"/>
<ellipse cx="953.5" cy="118.3" rx="117" ry="100.32" stroke="#9c9c9c" stroke-width="0.75" stroke-dasharray="0.8 1.4"/>
<ellipse cx="953.5" cy="118.3" rx="136.5" ry="117.04" stroke="#9c9c9c" stroke-width="0.75" stroke-dasharray="0.8 1.4"/>
<ellipse cx="953.5" cy="118.3" rx="156" ry="133.76" stroke="#9c9c9c" stroke-width="0.75" stroke-dasharray="0.8 1.4"/>
<ellipse cx="953.5" cy="118.3" rx="175.5" ry="150.48" stroke="#9c9c9c" stroke-width="0.75" stroke-dasharray="0.8 1.4"/>
<ellipse cx="953.5" cy="118.3" rx="195" ry="167.2" stroke="#9c9c9c" stroke-width="0.75" stroke-dasharray="0.8 1.4"/>
<ellipse cx="953.5" cy="118.3" rx="214.5" ry="183.92" stroke="#9c9c9c" stroke-width="0.75" stroke-dasharray="0.8 1.4"/>
<ellipse cx="953.5" cy="118.3" rx="234" ry="200.64" stroke="#9c9c9c" stroke-width="0.75" stroke-dasharray="0.8 1.4"/>
<ellipse cx="953.5" cy="118.3" rx="253.5" ry="217.36" stroke="#9c9c9c" stroke-width="0.75" stroke-dasharray="0.8 1.4"/>
<path d="M876.4 118.3H1096.6M953.5 49.4V237.2" stroke="#222" stroke-width="0.8"/>
</g>
<text x="894.4" y="135" font-size="10.4" fill="#808080" text-anchor="middle">15</text>
<text x="914" y="135" font-size="10.4" fill="#808080" text-anchor="middle">10</text>
<text x="933.6" y="135" font-size="10.4" fill="#808080" text-anchor="middle">5</text>
<text x="972.8" y="135" font-size="10.4" fill="#808080" text-anchor="middle">5</text>
<text x="992.4" y="135" font-size="10.4" fill="#808080" text-anchor="middle">10</text>
<text x="1012" y="135" font-size="10.4" fill="#808080" text-anchor="middle">15</text>
<text x="1031.6" y="135" font-size="10.4" fill="#808080" text-anchor="middle">20</text>
<text x="1051.2" y="135" font-size="10.4" fill="#808080" text-anchor="middle">25</text>
<text x="1070.8" y="135" font-size="10.4" fill="#808080" text-anchor="middle">30</text>
<path d="M933.8 114.1 L915 111.2 L892.6 107.6 L892.3 109.5 L893.9 111.9 L902 115.3 L915.3 120.5 L935.6 125.8 L951.7 129 L956 129.2 L959.1 129.6 L960 131.2 L958.6 133.9 L953.8 136.2 L947.4 139.4 L945.8 141.3 L949.5 141.1 L959.1 137.6 L969.8 133.9" fill="none" stroke="#ff0000" stroke-width="2.15" stroke-linejoin="round" stroke-linecap="butt"/>
<path d="M976.6 133 L984.6 133.3 L987.6 134.2 L984.1 138.2 L978.9 142.5 L978 146 L978 152.1 L977.6 162.8 L978.2 165.5 L979.2 167.8" fill="none" stroke="#158a15" stroke-width="2.15" stroke-linejoin="round" stroke-linecap="butt"/>
<path d="M982.5 178.3 L985.1 180.7 L988.9 178.8 L996.4 174.8 L1007.1 164.9 L1014.5 157.4 L1024.2 154.2 L1032.7 156.1 L1041.3 158.3 L1044.5 160.4" fill="none" stroke="#a414b4" stroke-width="2.15" stroke-linejoin="round" stroke-linecap="butt"/>
<path d="M1051.1 167.6 L1052.2 170.8 L1051.4 175.6 L1054.1 177.8 L1063.7 182.2 L1066.9 186.8 L1069.3 191.1 L1066.4 191.1" fill="none" stroke="#2222ff" stroke-width="2.15" stroke-linejoin="round" stroke-linecap="butt"/>
<text x="954.4" y="132" font-size="11.1" text-anchor="middle" stroke="#fff" stroke-width="1.8" paint-order="stroke" stroke-linejoin="round">1</text>
<text x="943.1" y="144.5" font-size="11.1" text-anchor="middle" stroke="#fff" stroke-width="1.8" paint-order="stroke" stroke-linejoin="round">2</text>
<text x="972.8" y="136.8" font-size="11.1" text-anchor="middle" stroke="#fff" stroke-width="1.8" paint-order="stroke" stroke-linejoin="round">3</text>
<text x="980.3" y="176.4" font-size="11.1" text-anchor="middle" stroke="#fff" stroke-width="1.8" paint-order="stroke" stroke-linejoin="round">6</text>
<text x="1048.2" y="167.3" font-size="11.1" text-anchor="middle" stroke="#fff" stroke-width="1.8" paint-order="stroke" stroke-linejoin="round">9</text>
<ellipse cx="999.7" cy="106.9" rx="9.1" ry="7.6" fill="#fff" stroke="#000" stroke-width="1.3"/>
<text transform="translate(999.7 110.6) scale(0.72 1)" font-size="10.4" letter-spacing="-0.7" text-anchor="middle">LM</text>
<ellipse cx="905.5" cy="160.9" rx="9.1" ry="7.6" fill="#fff" stroke="#000" stroke-width="1.3"/>
<text transform="translate(905.5 164.6) scale(0.72 1)" font-size="10.4" letter-spacing="-0.7" text-anchor="middle">RM</text>
<rect x="876.4" y="49.4" width="220.2" height="187.8" fill="none" stroke="#000" stroke-width="1.3"/>
<text x="985.3" y="250.8" font-size="11.12" text-anchor="middle">Hodograph (wind in kt, height in km)</text>
<text x="986.7" y="36.1" font-size="15.2" font-weight="bold" fill="#808080" text-anchor="middle">TROPICALTIDBITS.COM</text>
<text x="877.1" y="286.2" font-family='"DejaVu Sans Mono","Liberation Mono",monospace' font-size="13.9" fill="#000" xml:space="preserve">SRH 0-1km:       10 </text>
<text x="1045.07" y="286.2" font-size="13.9" font-style="italic">m<tspan font-size="9.9" dy="-5.2" font-style="normal">2</tspan><tspan dy="5.2">s</tspan><tspan font-size="9.9" dy="-5.2" font-style="normal">−2</tspan></text>
<text x="877.1" y="303.2" font-family='"DejaVu Sans Mono","Liberation Mono",monospace' font-size="13.9" fill="#000" xml:space="preserve">SRH 0-3km:       22 </text>
<text x="1045.07" y="303.2" font-size="13.9" font-style="italic">m<tspan font-size="9.9" dy="-5.2" font-style="normal">2</tspan><tspan dy="5.2">s</tspan><tspan font-size="9.9" dy="-5.2" font-style="normal">−2</tspan></text>
<text x="876.5" y="322.3" font-family='"DejaVu Sans Mono","Liberation Mono",monospace' font-size="13.9" fill="#000" xml:space="preserve">SBCAPE:           0 J/kg</text>
<text x="876.5" y="339.1" font-family='"DejaVu Sans Mono","Liberation Mono",monospace' font-size="13.9" fill="#000" xml:space="preserve">MLCAPE:           0 J/kg</text>
<text x="876.5" y="357" font-family='"DejaVu Sans Mono","Liberation Mono",monospace' font-size="13.9" fill="#000" xml:space="preserve">MUCAPE:           0 J/kg</text>
<text x="876.5" y="374.4" font-family='"DejaVu Sans Mono","Liberation Mono",monospace' font-size="13.9" fill="#000" xml:space="preserve">SBCIN:            0 J/kg</text>
<text x="876.5" y="392" font-family='"DejaVu Sans Mono","Liberation Mono",monospace' font-size="13.9" fill="#000" xml:space="preserve">MLCIN:            0 J/kg</text>
<text x="876.5" y="409" font-family='"DejaVu Sans Mono","Liberation Mono",monospace' font-size="13.9" fill="#3333cc" xml:space="preserve">DCAPE:          314 J/kg</text>
<text x="876.5" y="426.7" font-family='"DejaVu Sans Mono","Liberation Mono",monospace' font-size="13.9" fill="#a52a2a" xml:space="preserve">SHR 200-850mb:   32 kt</text>
<text x="876.5" y="443.7" font-family='"DejaVu Sans Mono","Liberation Mono",monospace' font-size="13.9" fill="#8b5a00" xml:space="preserve">RH 300-850mb:    15 %</text>
<text x="876.5" y="461.4" font-family='"DejaVu Sans Mono","Liberation Mono",monospace' font-size="13.9" fill="#000" xml:space="preserve">PWAT:          0.41 in</text>
<path d="M892.3 522h4M892.3 565.8h4M892.3 609.6h4M896.2 665.2v-4M943.2 665.2v-4M990.2 665.2v-4M1037.2 665.2v-4M1084.2 665.2v-4" stroke="#000" stroke-width="1.1" fill="none"/>
<text x="902.2" y="526" font-size="10.6">400</text>
<text x="902.2" y="569.8" font-size="10.6">600</text>
<text x="902.2" y="613.6" font-size="10.6">800</text>
<text x="896.2" y="656" font-size="10.6" text-anchor="middle">290</text>
<text x="943.2" y="656" font-size="10.6" text-anchor="middle">300</text>
<text x="990.2" y="656" font-size="10.6" text-anchor="middle">310</text>
<text x="1037.2" y="656" font-size="10.6" text-anchor="middle">320</text>
<text x="1084.2" y="656" font-size="10.6" text-anchor="middle">330</text>
<text x="993.2" y="677.8" font-size="11.12" text-anchor="middle">Equivalent Pot. Temperature (K)</text>
<text transform="translate(884.5 582.9) rotate(-90)" font-size="11.12" text-anchor="middle">Pressure (hPa)</text>
<path d="M1061.68 499.4 L1056.38 506.46 L1052.56 514.69 L1048.15 522.63 L1042.27 529.98 L1036.39 535.86 L1030.51 540.27 L1026.99 544.68 L1024.05 549.09 L1012.87 558.79 L998.17 570.55 L989.35 576.43 L983.47 581.43 L979.95 587.31 L970.25 593.19 L959.96 598.48 L948.2 602.89 L942.9 606.41 L940.85 609.35 L940.85 613.76 L942.9 616.7 L947.61 621.11 L955.55 625.52 L959.96 628.46 L963.48 631.7 L959.37 637.28 L960.54 641.69 L961.43 647.57 L956.13 654.04" fill="none" stroke="#3a9cbc" stroke-width="2.9" stroke-linejoin="round" clip-path="url(#ce)"/>
<rect x="892.3" y="500.6" width="204.4" height="164.6" fill="none" stroke="#000" stroke-width="1.3"/>
<path d="M0 0H1133V1H1V747H0Z" fill="#a0a0a0"/>
<path d="M1 1H1132V2H2V746H1Z" fill="#696969"/>
<path d="M2 746H1132V2H1133V747H2Z" fill="#e3e3e3"/>
</svg></body></html>
